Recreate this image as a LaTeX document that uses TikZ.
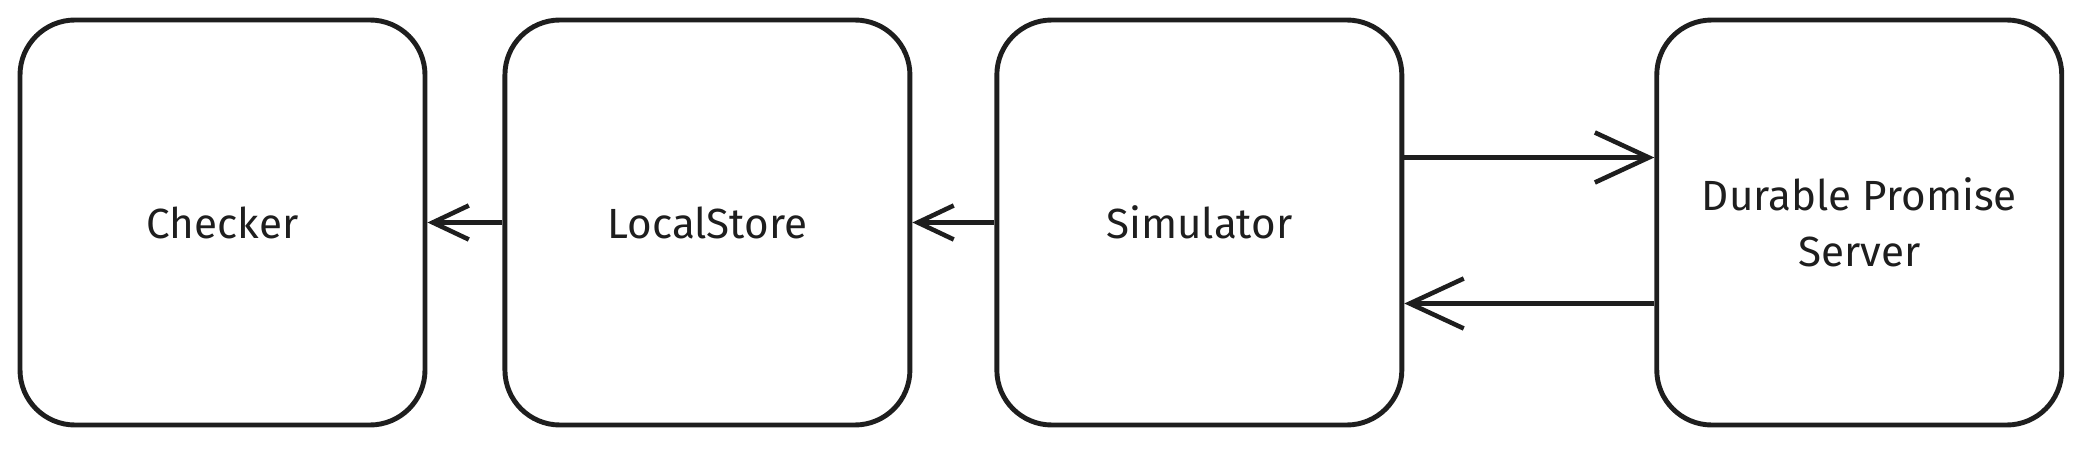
\documentclass[tikz,border=0pt]{standalone}
\usepackage{fontspec}
\setmainfont{Fira Sans}
\usepackage{xcolor}
\usepackage{tikz}
\usetikzlibrary{arrows.meta, positioning}
\definecolor{ink}{HTML}{1E1E1E}

\begin{document}
\begin{tikzpicture}
    \tikzstyle{box} = [rectangle, rounded corners=0.55cm, minimum width=4.05cm,
                       minimum height=4.05cm, text centered, align=center,
                       draw=ink, line width=1.4pt, fill=white,
                       font=\fontsize{12}{16}\selectfont, text=ink]
    \tikzstyle{arr} = [-{Straight Barb[length=3.6mm, width=3.4mm]}, line width=1.3pt, color=ink]
    \tikzstyle{longarr} = [-{Straight Barb[length=5.4mm, width=5mm]}, line width=1.3pt, color=ink]

    \useasboundingbox (0,0) rectangle (20.81,4.5);

    \node (checker) [box] at (2.225,2.275) {Checker};
    \node (store)   [box, right=0.75cm of checker] {LocalStore};
    \node (sim)     [box, right=0.82cm of store]   {Simulator};
    \node (server)  [box, right=2.5cm of sim]      {Durable Promise\\Server};

    \draw[arr] (store) -- (checker);
    \draw[arr] (sim)   -- (store);
    \draw[longarr] ([yshift=0.65cm]sim.east) -- ([yshift=0.65cm]server.west);
    \draw[longarr] ([yshift=-0.81cm]server.west) -- ([yshift=-0.81cm]sim.east);
  \end{tikzpicture}
\end{document}
